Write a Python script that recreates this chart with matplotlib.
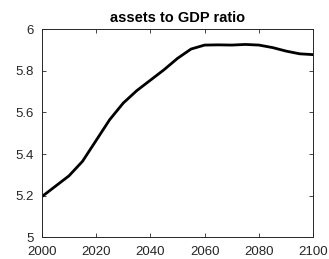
import matplotlib
matplotlib.use('Agg')
import matplotlib.pyplot as plt

plt.rcParams['font.family'] = ['Liberation Sans', 'DejaVu Sans']

# values
years = [2000, 2005, 2010, 2015, 2020, 2025, 2030, 2035, 2040, 2045, 2050,
         2055, 2060, 2065, 2070, 2075, 2080, 2085, 2090, 2095, 2100]
ratio = [5.195, 5.245, 5.295, 5.365, 5.465, 5.565, 5.645, 5.705, 5.755, 5.805, 5.86,
         5.905, 5.924, 5.925, 5.924, 5.927, 5.924, 5.912, 5.895, 5.882, 5.878]
xticks = [2000, 2020, 2040, 2060, 2080, 2100]
yticks = [5, 5.2, 5.4, 5.6, 5.8, 6]

fig = plt.figure(figsize=(3.29, 2.59), dpi=100)
ax = fig.add_axes([0.127, 0.084, 0.825, 0.803])
ax.plot(years, ratio, color='black', lw=2, solid_joinstyle='round')
ax.set_xlim(2000, 2100)
ax.set_ylim(5, 6)
ax.set_xticks(xticks)
ax.set_yticks(yticks)
ax.set_yticklabels(['5', '5.2', '5.4', '5.6', '5.8', '6'])
ax.tick_params(direction='in', top=True, right=True, labelsize=9.5,
               length=3, width=0.6, colors='#262626')
ax.tick_params(axis='x', pad=6.5)
ax.tick_params(axis='y', pad=5.5)
for s in ax.spines.values():
    s.set_color('#262626')
    s.set_linewidth(0.7)
ax.set_title('assets to GDP ratio', fontsize=10.5, fontweight='bold', pad=5.5)

fig.savefig('out.png', dpi=100)
